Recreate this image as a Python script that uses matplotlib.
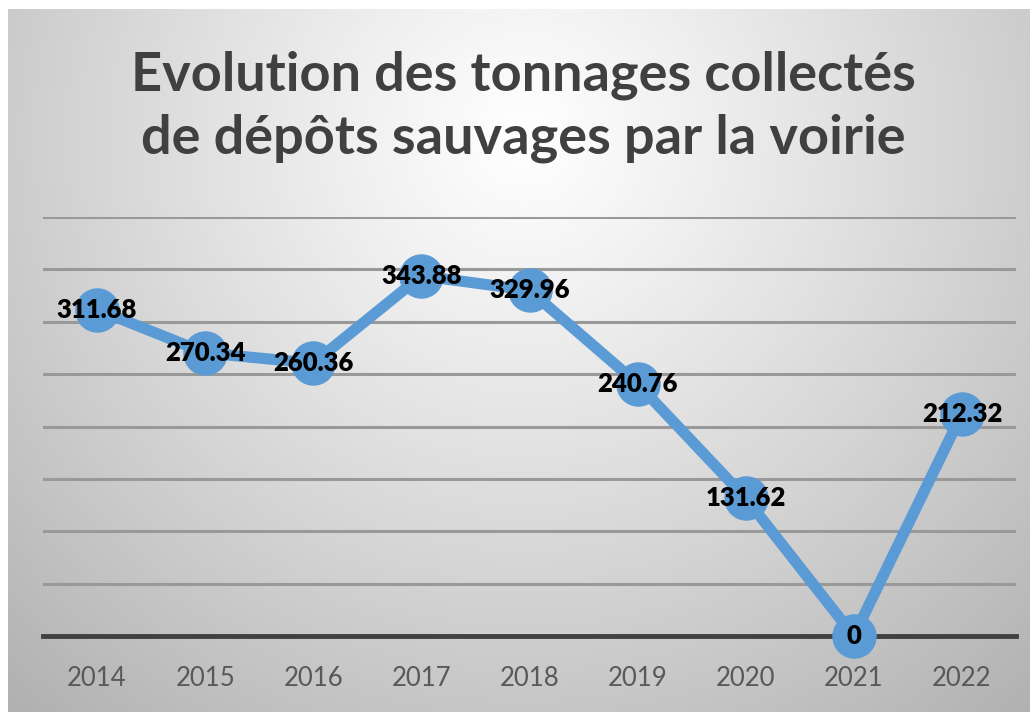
import numpy as np
import matplotlib
matplotlib.use("Agg")
import matplotlib.pyplot as plt

years = ["2014", "2015", "2016", "2017", "2018", "2019", "2020", "2021", "2022"]
tonnages = [311.68, 270.34, 260.36, 343.88, 329.96, 240.76, 131.62, 0, 212.32]
labels = ["311.68", "270.34", "260.36", "343.88", "329.96", "240.76", "131.62", "0", "212.32"]
title = "Evolution des tonnages collectés\nde dépôts sauvages par la voirie"

W, H = 1030, 712
fig = plt.figure(figsize=(W / 100, H / 100), dpi=100)
fig.patch.set_facecolor("white")

# background gradient (chart area)
bg = fig.add_axes([8 / W, 0, (W - 8) / W, (H - 9) / H])
bg.set_axis_off()
yy, xx = np.mgrid[0:H, 0:W]
cx, cy = 520, 130
d = np.sqrt(((xx - cx) / 620.0) ** 2 + ((yy - cy) / 620.0) ** 2)
val = 1.0 - 0.24 * np.clip(d, 0, 1.3) ** 1.1
img = np.dstack([val, val, val])
bg.imshow(img, aspect="auto", extent=[0, 1, 0, 1])
bg.set_xlim(0, 1)
bg.set_ylim(0, 1)

ax = fig.add_axes([43 / W, 76 / H, 973 / W, 419 / H])
ax.patch.set_alpha(0)
x = np.arange(len(years))
ax.set_xlim(-0.5, len(years) - 0.5)
ax.set_ylim(0, 400)
ax.set_yticks(np.arange(50, 401, 50))
ax.yaxis.grid(True, color="#999999", linewidth=2.2)
ax.set_axisbelow(True)
for s in ["top", "right", "left"]:
    ax.spines[s].set_visible(False)
ax.spines["bottom"].set_color("#404040")
ax.spines["bottom"].set_linewidth(3.5)
ax.tick_params(axis="y", left=False, labelleft=False)
ax.tick_params(axis="x", bottom=False, pad=18, labelsize=18.5, labelcolor="#595959")
ax.set_xticks(x)
ax.set_xticklabels(years, family="Lato")

ax.plot(x, tonnages, color="#5B9BD5", linewidth=8, marker="o", markersize=31,
        markerfacecolor="#5B9BD5", markeredgecolor="#5B9BD5", clip_on=False, zorder=3)

for xi, v, lab in zip(x, tonnages, labels):
    ax.text(xi, v, lab, ha="center", va="center", fontsize=18.5, fontweight="heavy",
            family="Lato", color="black", zorder=4, clip_on=False)

fig.text(0.508, 0.85, title, ha="center", va="center", fontsize=39, fontweight="bold",
         family="Lato", color="#404040", linespacing=1.32)

fig.savefig("out.png", dpi=100)
